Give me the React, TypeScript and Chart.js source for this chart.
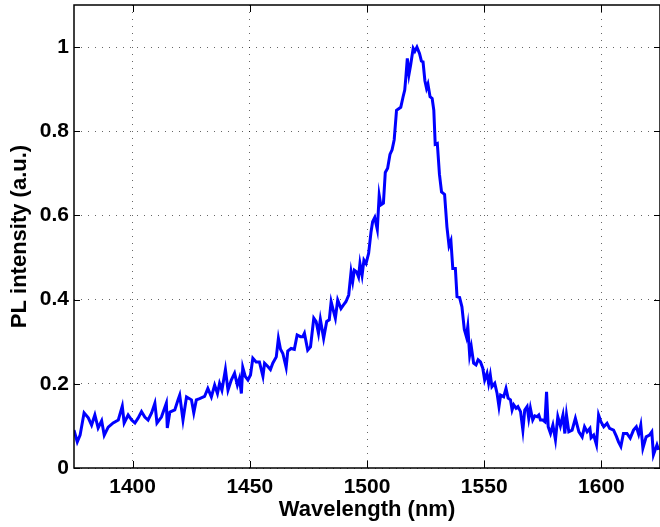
import React, { useEffect, useRef } from "react";
import { Chart, registerables } from "chart.js";

Chart.register(...registerables);

const wavelength = [
  1375.0, 1376.4, 1377.6, 1379.3, 1381.1, 1382.5, 1383.9, 1385.3, 1386.8, 1387.9,
  1389.6, 1391.7, 1393.9, 1395.6, 1396.4, 1398.1, 1399.6, 1401.0, 1402.4, 1403.8,
  1405.2, 1406.6, 1408.1, 1409.5, 1410.4, 1412.3, 1414.4, 1414.8, 1415.9, 1418.0,
  1419.4, 1420.1, 1421.5, 1423.0, 1425.1, 1426.1, 1427.2,
  1428.6, 1430.7, 1432.1, 1433.6, 1435.0, 1436.2, 1437.1, 1438.1, 1439.6, 1440.7,
  1442.1, 1443.5, 1444.7, 1445.6, 1446.4, 1447.0, 1448.1, 1449.2, 1450.3, 1451.3,
  1452.7, 1454.1, 1455.6, 1456.3, 1457.7, 1458.8, 1459.8, 1461.3, 1462.2, 1463.1,
  1464.1, 1465.5, 1466.2, 1467.6, 1469.0, 1470.2, 1471.6, 1472.6, 1473.3, 1474.7,
  1475.9, 1477.3, 1478.3, 1479.3, 1480.1, 1481.5,
  1482.8, 1483.9, 1484.7, 1485.6, 1486.5, 1487.5, 1488.9, 1489.9, 1491.0, 1492.2,
  1493.2, 1493.9, 1494.6, 1495.6, 1496.4, 1497.0, 1497.9, 1498.7, 1499.6, 1500.7,
  1501.7, 1502.4, 1503.3, 1504.4, 1505.2, 1505.9, 1507.0, 1507.8, 1508.8, 1509.8,
  1510.7, 1511.6, 1512.6, 1514.4, 1515.4, 1516.1, 1516.6, 1517.2, 1517.9, 1518.6,
  1519.7, 1520.4, 1521.3, 1522.4, 1523.2, 1523.9, 1524.7, 1525.4, 1526.0, 1526.9,
  1527.8, 1528.5, 1529.1, 1530.0, 1530.9, 1531.8, 1533.1, 1534.1, 1535.0, 1535.8,
  1536.6, 1537.7, 1538.4, 1539.5, 1540.5, 1541.5, 1542.4, 1543.0, 1543.8, 1544.5,
  1545.5, 1546.5, 1547.4, 1548.4, 1549.4, 1550.2, 1551.2, 1551.9, 1552.6, 1553.3,
  1554.5, 1555.5, 1556.3, 1557.0, 1558.3, 1559.3, 1560.2, 1561.2, 1561.9, 1562.6,
  1563.6, 1564.4, 1565.5, 1566.5, 1567.3, 1568.3, 1569.0, 1569.7, 1570.7, 1571.6,
  1572.6, 1573.3, 1574.0, 1575.0, 1575.9, 1576.6, 1577.3, 1578.3,
  1579.3, 1580.4, 1581.4, 1582.5, 1583.6, 1584.4, 1585.1, 1586.1, 1587.5, 1588.9,
  1590.4, 1591.8, 1592.8, 1593.9, 1595.1, 1595.6, 1596.7, 1597.9, 1598.8, 1599.8,
  1601.0, 1602.4, 1603.5, 1605.2, 1606.4, 1607.3, 1608.3, 1609.4, 1610.9, 1612.3,
  1613.7, 1614.9, 1615.9, 1616.8, 1617.7, 1619.1, 1620.5, 1621.5, 1622.2, 1623.7,
  1624.4,
];

const intensity = [
  0.090, 0.062, 0.078, 0.131, 0.119, 0.102, 0.126, 0.095, 0.112, 0.078,
  0.097, 0.107, 0.114, 0.147, 0.107, 0.126, 0.114, 0.107, 0.119, 0.134,
  0.121, 0.114, 0.131, 0.154, 0.107, 0.121, 0.154, 0.095, 0.133, 0.138,
  0.162, 0.173, 0.114, 0.169, 0.162, 0.131, 0.162,
  0.165, 0.170, 0.189, 0.169, 0.197, 0.177, 0.201, 0.185, 0.234, 0.185,
  0.209, 0.225, 0.197, 0.213, 0.177, 0.239, 0.217, 0.209, 0.221, 0.261,
  0.252, 0.252, 0.218, 0.249, 0.241, 0.234, 0.249, 0.264, 0.308, 0.282,
  0.272, 0.239, 0.278, 0.284, 0.282, 0.316, 0.312, 0.312, 0.320, 0.280,
  0.288, 0.356, 0.348, 0.320, 0.353, 0.308,
  0.348, 0.352, 0.395, 0.375, 0.356, 0.399, 0.379, 0.387, 0.395, 0.411,
  0.466, 0.443, 0.470, 0.466, 0.454, 0.486, 0.458, 0.494, 0.486, 0.510,
  0.560, 0.585, 0.595, 0.567, 0.648, 0.625, 0.629, 0.702, 0.712, 0.745,
  0.756, 0.780, 0.850, 0.857, 0.882, 0.898, 0.930, 0.973, 0.935, 0.957,
  0.997, 0.990, 1.000, 0.985, 0.967, 0.965, 0.920, 0.902, 0.912, 0.882,
  0.878, 0.850, 0.769, 0.771, 0.698, 0.656, 0.650, 0.573, 0.528, 0.540,
  0.474, 0.474, 0.407, 0.405, 0.383, 0.330, 0.312, 0.336, 0.268, 0.288,
  0.249, 0.245, 0.257, 0.252, 0.237, 0.209, 0.225, 0.201, 0.221, 0.193,
  0.201, 0.177, 0.146, 0.173, 0.169, 0.189, 0.166, 0.162, 0.138, 0.150,
  0.142, 0.146, 0.134, 0.090, 0.138, 0.146, 0.118, 0.142, 0.114, 0.124,
  0.122, 0.126, 0.114, 0.114, 0.110, 0.181, 0.098, 0.082,
  0.102, 0.067, 0.122, 0.100, 0.126, 0.082, 0.126, 0.086, 0.090, 0.118,
  0.086, 0.074, 0.098, 0.086, 0.094, 0.072, 0.078, 0.055, 0.126, 0.110,
  0.098, 0.106, 0.094, 0.090, 0.075, 0.062, 0.051, 0.082, 0.082, 0.071,
  0.090, 0.098, 0.080, 0.102, 0.047, 0.074, 0.078, 0.086, 0.031, 0.055,
  0.043,
];

const xTicks = [1400, 1450, 1500, 1550, 1600];
const yTicks = [0, 0.2, 0.4, 0.6, 0.8, 1];
const xRange = [1375, 1625];
const yRange = [0, 1.1];

const FONT = "'Liberation Sans', Arial, Helvetica, sans-serif";

const framePlugin = {
  id: "frame",
  afterDraw(chart: any) {
    const { ctx, chartArea: a, scales } = chart;
    ctx.save();
    ctx.strokeStyle = "#000";
    ctx.lineWidth = 1;
    ctx.beginPath();
    for (const t of scales.x.ticks) {
      const px = Math.round(scales.x.getPixelForValue(t.value)) + 0.5;
      ctx.moveTo(px, a.bottom);
      ctx.lineTo(px, a.bottom - 7);
      ctx.moveTo(px, a.top);
      ctx.lineTo(px, a.top + 7);
    }
    for (const t of scales.y.ticks) {
      const py = Math.round(scales.y.getPixelForValue(t.value)) + 0.5;
      ctx.moveTo(a.left, py);
      ctx.lineTo(a.left + 6, py);
      ctx.moveTo(a.right, py);
      ctx.lineTo(a.right - 6, py);
    }
    ctx.stroke();
    ctx.lineWidth = 1.5;
    ctx.strokeRect(a.left, a.top, a.right - a.left, a.bottom - a.top);
    ctx.restore();
  },
};

export default function App() {
  const ref = useRef<HTMLCanvasElement | null>(null);

  useEffect(() => {
    if (!ref.current) return;
    const points = wavelength.map((w, i) => ({ x: w, y: intensity[i] }));
    const chart = new Chart(ref.current, {
      type: "line",
      data: {
        datasets: [
          {
            data: points,
            borderColor: "#0000ff",
            borderWidth: 3,
            pointRadius: 0,
            tension: 0,
            fill: false,
          },
        ],
      },
      options: {
        animation: false,
        responsive: false,
        events: [],
        layout: { padding: { top: 5, right: 0, left: 0, bottom: 0 } },
        plugins: {
          legend: { display: false },
          tooltip: { enabled: false },
        },
        scales: {
          x: {
            type: "linear",
            min: xRange[0],
            max: xRange[1],
            afterBuildTicks: (s: any) => {
              s.ticks = xTicks.map((v) => ({ value: v }));
            },
            afterFit: (s: any) => {
              s.height = 59;
              s.paddingLeft = 0;
              s.paddingRight = 0;
            },
            grid: {
              color: "rgba(0,0,0,0.6)",
              lineWidth: 1,
              drawTicks: false,
            },
            border: { display: false, dash: [1, 6] },
            ticks: {
              color: "#000",
              padding: 7,
              maxRotation: 0,
              autoSkip: false,
              font: { family: FONT, size: 21, weight: "bold" },
              callback: (v: any) => String(v),
            },
            title: {
              display: true,
              text: "Wavelength (nm)",
              color: "#000",
              padding: { top: 0, bottom: 4 },
              font: { family: FONT, size: 22, weight: "bold" },
            },
          },
          y: {
            type: "linear",
            min: yRange[0],
            max: yRange[1],
            afterBuildTicks: (s: any) => {
              s.ticks = yTicks.map((v) => ({ value: v }));
            },
            afterFit: (s: any) => {
              s.width = 74;
              s.paddingTop = 0;
              s.paddingBottom = 0;
            },
            grid: {
              color: "rgba(0,0,0,0.6)",
              lineWidth: 1,
              drawTicks: false,
            },
            border: { display: false, dash: [1, 6] },
            ticks: {
              color: "#000",
              padding: 5,
              autoSkip: false,
              font: { family: FONT, size: 21, weight: "bold" },
              callback: (v: any) => String(v),
            },
            title: {
              display: true,
              text: "PL intensity (a.u.)",
              color: "#000",
              padding: { top: 7, bottom: 0 },
              font: { family: FONT, size: 22, weight: "bold" },
            },
          },
        },
      },
      plugins: [framePlugin],
    });
    return () => chart.destroy();
  }, []);

  return (
    <div style={{ position: "absolute", left: 0, top: 0, width: 660, height: 527, background: "#fff" }}>
      <canvas ref={ref} width={660} height={527} style={{ display: "block" }} />
    </div>
  );
}
